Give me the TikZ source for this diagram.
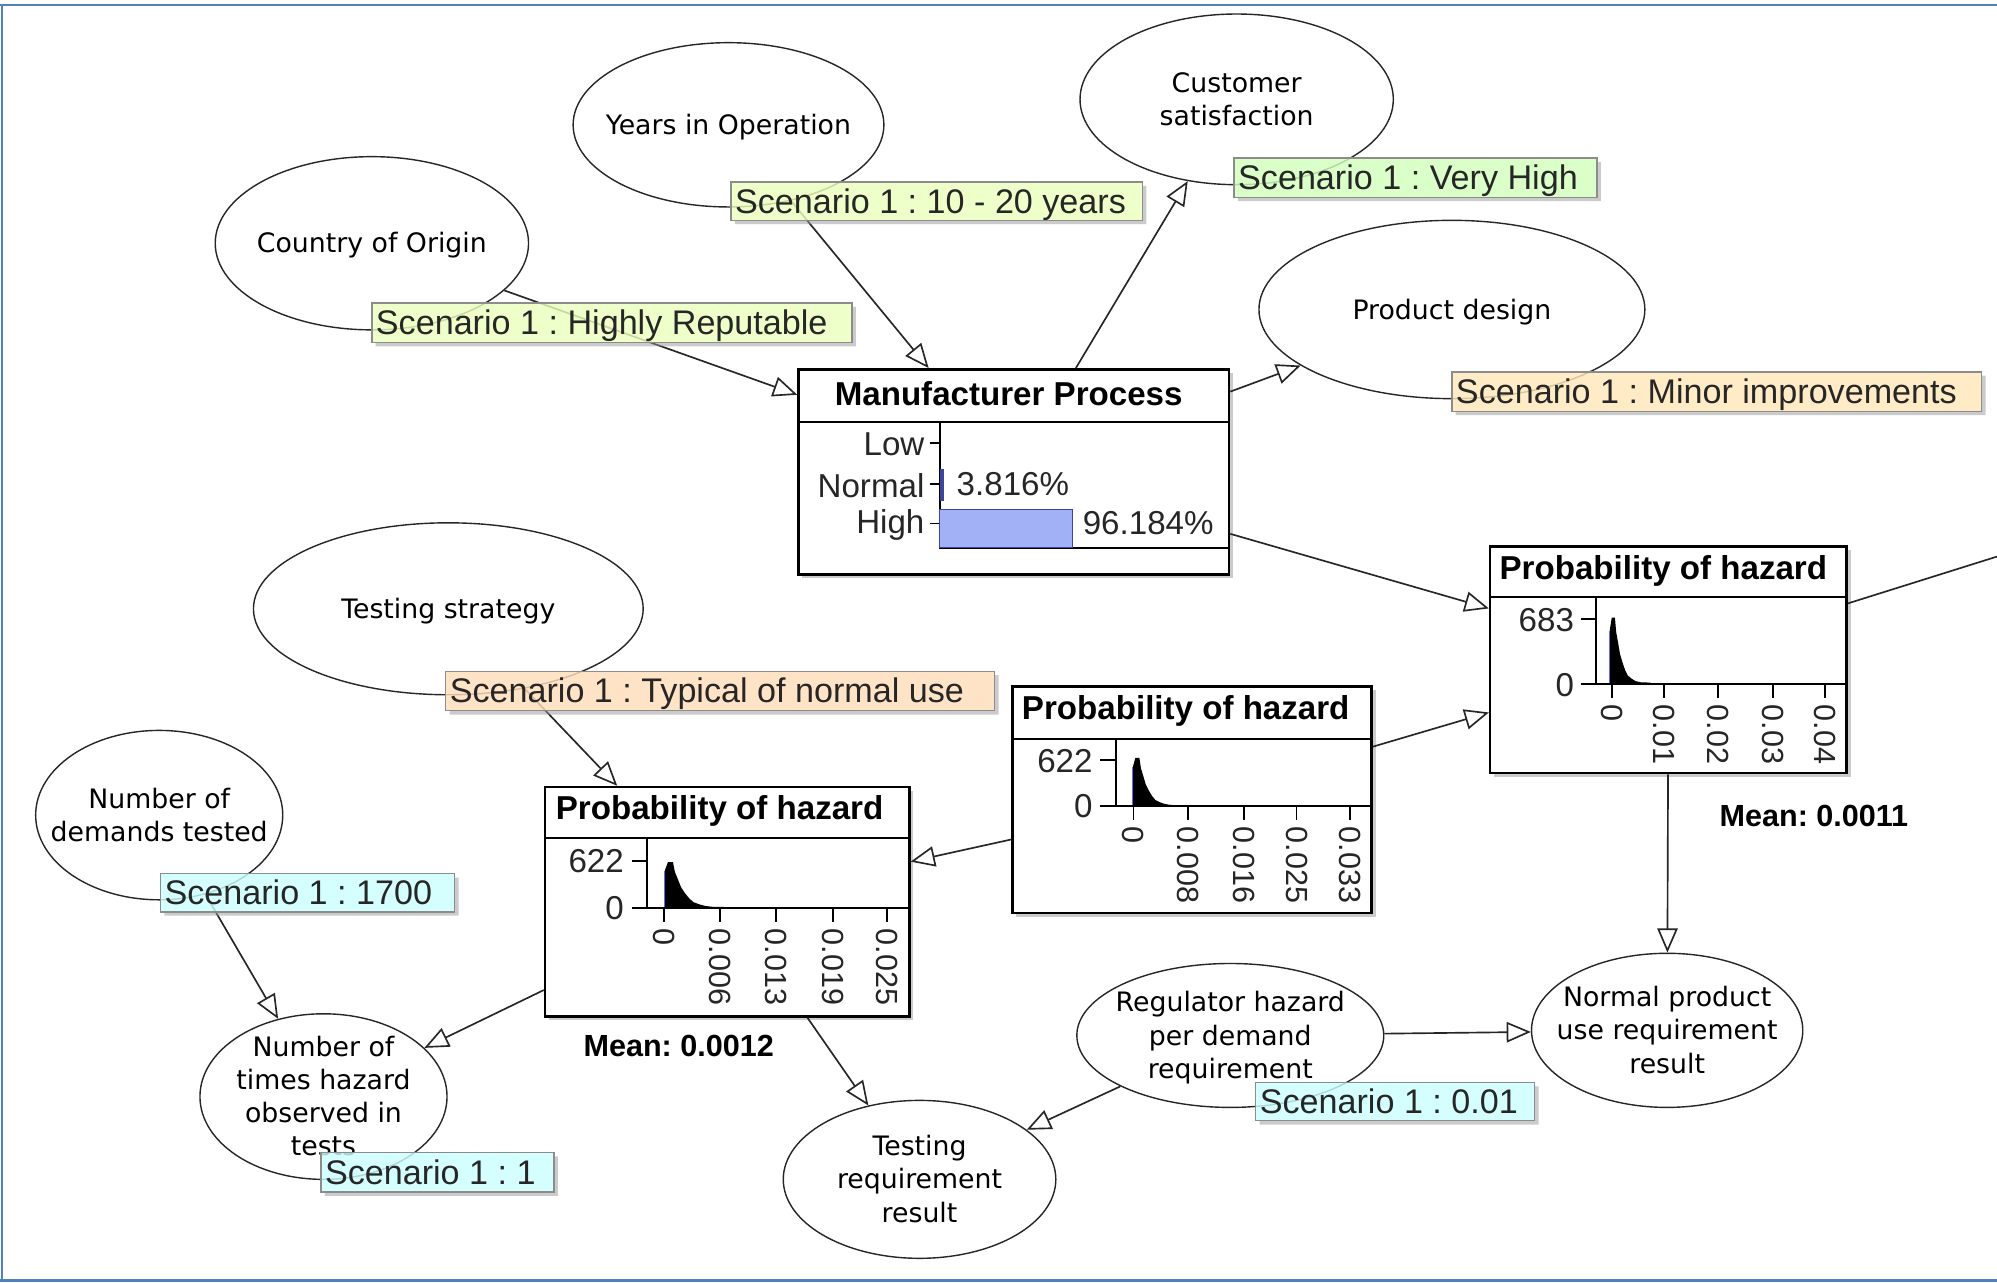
\documentclass[tikz,border=0pt]{standalone}
\usepackage{fontspec}
\setmainfont{Liberation Sans}
\newfontfamily\ellfont{DejaVu Sans}
\usetikzlibrary{shapes.geometric, arrows.meta}
\frenchspacing

\definecolor{frameblue}{RGB}{79,129,189}
\definecolor{lblyg}{RGB}{236,255,190}
\definecolor{lblgreen}{RGB}{210,255,190}
\definecolor{lblpeach}{RGB}{255,222,186}
\definecolor{lblsand}{RGB}{255,232,186}
\definecolor{lblcyan}{RGB}{204,255,255}
\definecolor{barblue}{RGB}{162,176,246}
\definecolor{baredge}{RGB}{60,70,150}

\tikzset{
  varnode/.style={ellipse, draw=black!85, line width=1.1pt, inner sep=0pt,
    font=\ellfont\fontsize{21}{26}\selectfont},
  edgearrow/.style={line width=1.3pt, draw=black!85,
    -{Triangle[length=19pt, width=16pt, fill=white]}},
  edgeplain/.style={line width=1.3pt, draw=black!85},
  distbox/.style={draw=black, line width=2pt, fill=white, inner sep=0pt, anchor=north west},
  boxtitle/.style={font=\bfseries\fontsize{26}{28}\selectfont, inner sep=0pt},
  axlabel/.style={font=\fontsize{26}{28}\selectfont, inner sep=0pt, text=black!85},
  ticklabel/.style={font=\fontsize{24}{26}\selectfont, inner sep=0pt, rotate=-90, anchor=west, text=black!85},
  meanlabel/.style={font=\bfseries\fontsize{24}{26}\selectfont, anchor=west, inner sep=0pt},
  scentext/.style={font=\fontsize{26.8}{28}\selectfont, inner sep=0pt, anchor=west,
    text=black!85, text height=19pt, text depth=5.5pt},
  shadowcol/.style={fill=black!40, opacity=.5},
  axisline/.style={line width=1.5pt, draw=black},
}

% centred multi-line text that does not enlarge its ellipse
\newcommand{\elltext}[1]{\makebox[0pt]{\smash{\raisebox{-7.5pt}{\begin{tabular}{@{}c@{}}#1\end{tabular}}}}}

% scenario tag: name, x1, y1, x2, y2, fill colour, text
\newcommand{\scen}[7]{%
  \fill[shadowcol] (#4,#3+3) -- (#4+3,#3+3) -- (#4+3,#5+3) -- (#2+3,#5+3) -- (#2+3,#5) -- (#4,#5) -- cycle;
  \draw[draw=black!45, line width=1pt, fill=#6, fill opacity=.82] (#2,#3) rectangle (#4,#5);
  \node[scentext] (#1) at (#2+3,{(#3+#5)/2+2.5}) {#7};
}

% histogram spike: x0, baseline, height, tail end x, x stretch
\newcommand{\spike}[5]{%
  \begin{scope}[shift={(#1,#2)}, xscale=#5, yscale=#3]
    \fill[black] (0,0) -- (0,-0.82) -- (1.5,-1) -- (4,-1) -- (5,-0.78) -- (6.5,-0.62)
      -- (8,-0.45) -- (10,-0.32) -- (12,-0.21) -- (14,-0.13) -- (17,-0.08) -- (20,-0.045)
      -- (24,-0.025) -- ({(#4-#1)/#5},-0.02) -- ({(#4-#1)/#5},0) -- cycle;
  \end{scope}
  \draw[barblue!60!blue, line width=1pt] (#1-0.5,#2) -- (#1-0.5,#2-0.8*#3);
}

\begin{document}
\begin{tikzpicture}[x=1pt, y=-1pt]
\useasboundingbox (0,0) rectangle (1568,1007);
\fill[white] (0,0) rectangle (1568,1007);

% frame
\draw[frameblue, line width=2pt] (0,4) -- (1568,4);
\draw[frameblue, line width=2pt] (1.5,3) -- (1.5,1006);
\draw[frameblue, line width=2pt] (0,1005.5) -- (1568,1005.5);

% variables
\node[varnode, minimum width=244pt, minimum height=129pt] (years) at (572,98) {\elltext{Years in Operation}};
\node[varnode, minimum width=246pt, minimum height=134pt] (cust) at (971,78) {\elltext{Customer\\satisfaction}};
\node[varnode, minimum width=246pt, minimum height=136pt] (country) at (292,191) {\elltext{Country of Origin}};
\node[varnode, minimum width=303pt, minimum height=140pt] (design) at (1140,243) {\elltext{Product design}};
\node[varnode, minimum width=306pt, minimum height=135pt] (strategy) at (352,478) {\elltext{Testing strategy}};
\node[varnode, minimum width=194pt, minimum height=133pt] (demands) at (125,640) {\elltext{Number of\\demands tested}};
\node[varnode, minimum width=194pt, minimum height=130pt] (observed) at (254,861) {\elltext{Number of\\times hazard\\observed in\\tests}};
\node[varnode, minimum width=214pt, minimum height=124pt] (testres) at (722,926) {\elltext{Testing\\requirement\\result}};
\node[varnode, minimum width=241pt, minimum height=113pt] (regulator) at (966,813) {\elltext{Regulator hazard\\per demand\\requirement}};
\node[varnode, minimum width=213pt, minimum height=121pt] (normres) at (1309,809) {\elltext{Normal product\\use requirement\\result}};

% ---------- Manufacturer Process ----------
\fill[shadowcol] (630,293) rectangle (968,454);
\node[distbox, minimum width=338pt, minimum height=161pt] (mp) at (626,289) {};
\draw[axisline] (626,331) -- (964,331);
\node[boxtitle] (mptitle) at (792,309) {Manufacturer Process};
\draw[axisline] (738,331) -- (738,430) -- (964,430);
\foreach \yy/\lab [count=\i] in {348/Low, 380/Normal, 411/High} {
  \draw[axisline] (730,\yy) -- (738,\yy);
  \node[axlabel, anchor=east] (mpstate\i) at (726,\yy+1) {\lab};
}
\fill[baredge] (738,368) rectangle (741.5,393);
\draw[fill=barblue, draw=baredge, line width=0.8pt] (738,400) rectangle (842,430);
\node[axlabel, anchor=west] (mpnormal) at (751,380) {3.816\%};
\node[axlabel, anchor=west] (mphigh) at (850,411) {96.184\%};

% ---------- Probability of hazard (right) ----------
\fill[shadowcol] (1173,432) rectangle (1453,610);
\node[distbox, minimum width=280pt, minimum height=178pt] (p1) at (1169,428) {};
\draw[axisline] (1169,469) -- (1449,469);
\node[boxtitle] (p1title) at (1306,448) {Probability of hazard};
\spike{1264}{537}{52}{1296}{1}
\draw[axisline] (1253,469) -- (1253,537);
\draw[axisline] (1241,537) -- (1449,537);
\draw[axisline] (1241,486) -- (1253,486);
\node[axlabel, anchor=east] (p1max) at (1236,487) {683};
\node[axlabel, anchor=east] (p1zero) at (1236,538) {0};
\foreach \xx/\lab [count=\i] in {1266/0, 1306.5/0.01, 1349/0.02, 1392/0.03, 1433/0.04} {
  \draw[axisline] (\xx,537) -- (\xx,548);
  \node[ticklabel] (p1tick\i) at (\xx,553) {\lab};
}
\node[meanlabel] (p1mean) at (1350,641) {Mean: 0.0011};

% ---------- Probability of hazard (middle) ----------
\fill[shadowcol] (798,542) rectangle (1080,720);
\node[distbox, minimum width=282pt, minimum height=178pt] (p2) at (794,538) {};
\draw[axisline] (794,580) -- (1076,580);
\node[boxtitle] (p2title) at (931,558) {Probability of hazard};
\spike{889.6}{633}{38}{945}{1.25}
\draw[axisline] (876,580) -- (876,633);
\draw[axisline] (864,633) -- (1076,633);
\draw[axisline] (864,597) -- (876,597);
\node[axlabel, anchor=east] (p2max) at (858,597.5) {622};
\node[axlabel, anchor=east] (p2zero) at (858,633) {0};
\foreach \xx/\lab [count=\i] in {890/0, 933/0.008, 977/0.016, 1018/0.025, 1060/0.033} {
  \draw[axisline] (\xx,633) -- (\xx,644);
  \node[ticklabel] (p2tick\i) at (\xx,649) {\lab};
}

% ---------- Probability of hazard (left) ----------
\fill[shadowcol] (431,621) rectangle (717,801);
\node[distbox, minimum width=286pt, minimum height=180pt] (p3) at (427,617) {};
\draw[axisline] (427,658) -- (713,658);
\node[boxtitle] (p3title) at (565,637) {Probability of hazard};
\spike{522}{713}{36}{593}{1.6}
\draw[axisline] (508,658) -- (508,713);
\draw[axisline] (496,713) -- (713,713);
\draw[axisline] (496,676) -- (508,676);
\node[axlabel, anchor=east] (p3max) at (490,676) {622};
\node[axlabel, anchor=east] (p3zero) at (490,713) {0};
\foreach \xx/\lab [count=\i] in {521/0, 565.5/0.006, 609/0.013, 654/0.019, 696.5/0.025} {
  \draw[axisline] (\xx,713) -- (\xx,724);
  \node[ticklabel] (p3tick\i) at (\xx,729) {\lab};
}
\node[meanlabel] (p3mean) at (458,821) {Mean: 0.0012};

% ---------- connectors ----------
\coordinate (offright) at (1568,437);
\draw[edgearrow] (country) -- (mp);
\draw[edgearrow] (years) -- (mp);
\draw[edgearrow] (mp) -- (cust);
\draw[edgearrow] (mp) -- (design);
\draw[edgearrow] (mp) -- (p1);
\draw[edgearrow] (p2) -- (p1);
\draw[edgearrow] (p2) -- (p3);
\draw[edgearrow] (strategy) -- (p3);
\draw[edgearrow] (p3) -- (observed);
\draw[edgearrow] (demands) -- (observed);
\draw[edgearrow] (p3) -- (testres);
\draw[edgearrow] (regulator) -- (testres);
\draw[edgearrow] (regulator) -- (normres);
\draw[edgearrow] (p1) -- (normres);
\draw[edgeplain] (p1) -- (offright);

% ---------- scenario tags ----------
\scen{yearsval}{574}{143}{897}{173}{lblyg}{Scenario 1 : 10 - 20 years}
\scen{custval}{969}{124}{1254}{155}{lblgreen}{Scenario 1 : Very High}
\scen{countryval}{292}{238}{669}{269}{lblyg}{Scenario 1 : Highly Reputable}
\scen{designval}{1140}{292}{1556}{323}{lblsand}{Scenario 1 : Minor improvements}
\scen{strategyval}{350}{527}{781}{558}{lblpeach}{Scenario 1 : Typical of normal use}
\scen{demandsval}{126}{686}{357}{716}{lblcyan}{Scenario 1 : 1700}
\scen{observedval}{252}{905}{435}{936}{lblcyan}{Scenario 1 : 1}
\scen{regulatorval}{986}{850}{1205}{880}{lblcyan}{Scenario 1 : 0.01}

\end{tikzpicture}
\end{document}
